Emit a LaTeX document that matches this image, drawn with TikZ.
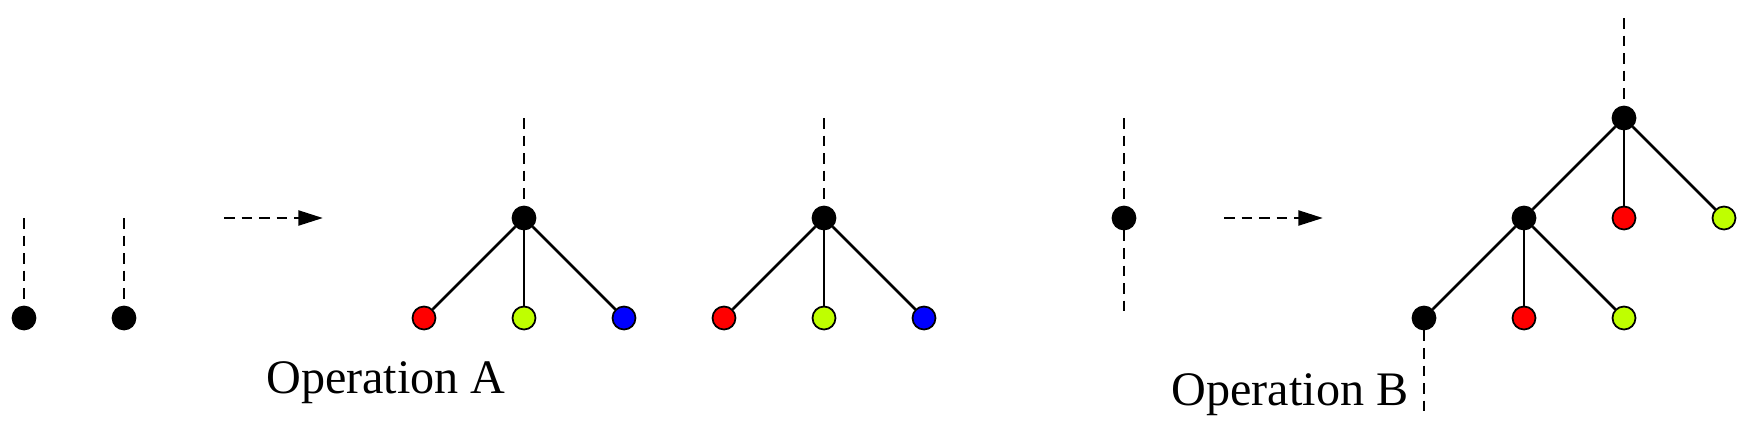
\documentclass[tikz,border=0pt]{standalone}
\usepackage{fontspec}
\setmainfont{Liberation Serif}
\usetikzlibrary{arrows.meta}
\definecolor{lime}{rgb}{0.75,1,0}
\tikzset{
  vertex/.style={circle,draw=black,line width=0.5pt,inner sep=0pt,minimum size=0.23cm},
  blk/.style={vertex,fill=black},
  red/.style={vertex,fill=red},
  grn/.style={vertex,fill=lime},
  blu/.style={vertex,fill=blue},
  leg/.style={line width=0.8pt,dash pattern=on 3pt off 2pt},
  edge/.style={line width=0.75pt},
  move/.style={leg,-{Triangle[length=7pt,width=4.2pt]}},
  label/.style={font=\fontsize{13.7}{16}\selectfont,anchor=base}
}
\begin{document}
\begin{tikzpicture}
      \useasboundingbox (0,0) rectangle (17.48,4.38);
      % left side of operation A
      \draw
        (0.24,1.2) node[blk] (l1){}
        (1.24,1.2) node[blk] (l2){};
      \coordinate (t1) at (0.24,2.2);
      \coordinate (t2) at (1.24,2.2);
      \coordinate (p1) at (2.24,2.2);
      \coordinate (p2) at (3.23,2.2);
      % right side of operation A
      \draw
        (5.24,2.2) node[blk] (a0){}
        (4.24,1.2) node[red] (a1){}
        (5.24,1.2) node[grn] (a2){}
        (6.24,1.2) node[blu] (a3){}
        (8.24,2.2) node[blk] (b0){}
        (7.24,1.2) node[red] (b1){}
        (8.24,1.2) node[grn] (b2){}
        (9.24,1.2) node[blu] (b3){};
      \coordinate (ta) at (5.24,3.2);
      \coordinate (tb) at (8.24,3.2);
      \node[label] (opa) at (3.86,0.45) {Operation A};
      % operation B
      \draw (11.24,2.2) node[blk] (s){};
      \coordinate (ts) at (11.24,3.2);
      \coordinate (bs) at (11.24,1.2);
      \coordinate (q1) at (12.24,2.2);
      \coordinate (q2) at (13.23,2.2);
      \draw
        (16.24,3.2) node[blk] (c0){}
        (15.24,2.2) node[blk] (c1){}
        (16.24,2.2) node[red] (c2){}
        (17.24,2.2) node[grn] (c3){}
        (14.24,1.2) node[blk] (d1){}
        (15.24,1.2) node[red] (d2){}
        (16.24,1.2) node[grn] (d3){};
      \coordinate (tc) at (16.24,4.2);
      \coordinate (bd) at (14.24,0.2);
      \node[label] (opb) at (12.90,0.33) {Operation B};
      \begin{scope}[leg]
        \draw (t1) to (l1);
        \draw (t2) to (l2);
        \draw (ta) to (a0);
        \draw (tb) to (b0);
        \draw (ts) to (s);
        \draw (s) to (bs);
        \draw (tc) to (c0);
        \draw (d1) to (bd);
      \end{scope}
      \draw[move] (p1) to (p2);
      \draw[move] (q1) to (q2);
      \begin{scope}[edge]
        \draw (a0) to (a1);
        \draw (a0) to (a2);
        \draw (a0) to (a3);
        \draw (b0) to (b1);
        \draw (b0) to (b2);
        \draw (b0) to (b3);
        \draw (c0) to (c1);
        \draw (c0) to (c2);
        \draw (c0) to (c3);
        \draw (c1) to (d1);
        \draw (c1) to (d2);
        \draw (c1) to (d3);
      \end{scope}
    \end{tikzpicture}
\end{document}
